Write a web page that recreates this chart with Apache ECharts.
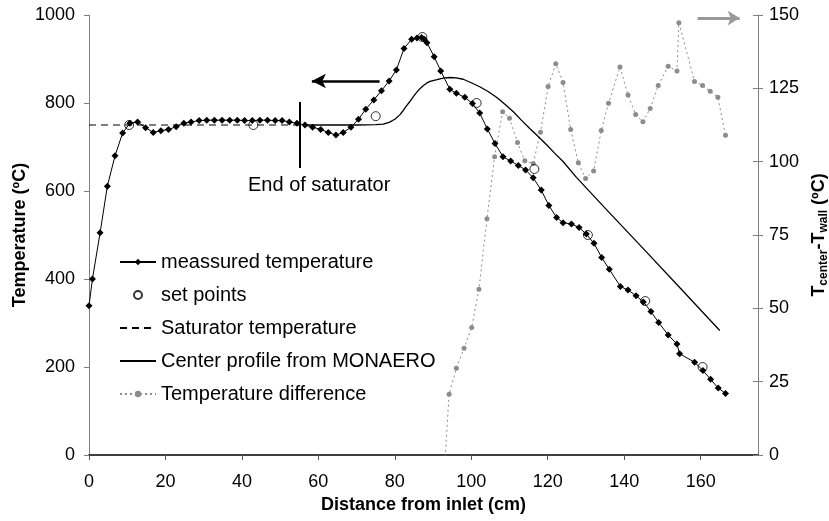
<!DOCTYPE html>
<html>
<head>
<meta charset="utf-8">
<script src="https://cdn.jsdelivr.net/npm/echarts@6/dist/echarts.min.js"></script>
<style>html,body{margin:0;padding:0;background:#fff}#c{width:829px;height:521px}</style>
</head>
<body>
<div id="c"></div>
<script>
// measured temperature (cm, ºC)
var measuredX = [0,0.9,2.9,4.8,6.8,8.8,10.7,12.7,14.8,16.8,18.8,20.8,22.8,24.8,26.7,28.8,30.8,32.8,34.8,36.8,38.8,40.7,42.7,44.7,46.7,48.7,50.5,52.4,54.4,56.5,58.5,60.6,62.6,64.6,66.5,68.5,70.5,72.4,74.5,76.5,78.5,80.4,82.4,84.4,85.8,87,87.7,88.4,90.3,92,94.4,96.1,98.3,100.3,102.2,104.2,106.2,108.3,110.3,112.3,114.2,116.2,118.3,120.3,122.3,124,126.2,128.2,130.1,132.1,134.1,136.1,139,141,143.1,145,147,149,151.5,153.8,154.5,158.4,160.6,162.6,164.6,166.5];
var measuredT = [339,400,505,611,680,732,754,757,744,733,737,740,746,754,757,760,761,761,761,761,761,760,760,761,761,760,760,757,754,750,745,740,733,727,733,745,763,786,807,828,850,875,924,945,948,949,945,937,905,873,831,822,813,799,777,741,708,678,668,658,648,630,602,567,540,528,525,517,502,481,449,422,383,375,362,348,326,301,273,252,230,211,192,172,152,140];
// set points
var setX = [10.5,43,75,87.2,101.4,116.5,130.5,145.5,160.5];
var setT = [750,750,770,950,800,650,500,350,200];
// saturator temperature
var satX = [0,56];
var satT = [750,750];
// center profile from MONAERO
var monX = [56,60,65,70,75,77,78.5,80,81.3,82.2,83,84,84.8,85.7,86.5,87.4,88.3,89.2,90,91,91.8,93,94.4,96,97.9,100,102.2,104.4,106.6,108.8,111,113.1,115.3,117.5,119.7,121.8,124,127.5,135,145,155,165];
var monT = [750,750,750,750,751,752,756,763,773,783,793,804,814,824,832,839,845,849,851,853,855,857,858,857,854,846,837,826,813,797,780,761,742,724,705,686,667,631,561,469,376,283];
// temperature difference (right axis)
var diffX = [92.2,94.2,96.1,98.1,100.1,102,104.1,106.1,108.2,110,112.1,114,116.2,118.1,120.1,122.1,124,126,128,129.9,132,134,135.9,138.9,141,143,144.9,146.8,148.9,151.5,153.8,154.3,158.4,160.5,162.5,164.5,166.5];
var diffT = [-21,20.7,29.6,36.4,43.5,56.5,80.5,101.7,117,114.8,106.5,100.3,99.4,110,125.6,133.4,127,111,99.6,94.3,96.8,110.6,119.9,132.3,122.7,116.1,113.6,118.1,126,132.5,130.9,147.4,127.3,126,124,122,109];
// tick settings
var xTicks = {min: 0, max: 175, interval: 20};
var yLeftTicks = {min: 0, max: 1000, interval: 200};
var yRightTicks = {min: 0, max: 150, interval: 25};

function zip(a, b) { return a.map(function (v, i) { return [v, b[i]]; }); }
function plain(v) { return String(v); }

var FONT = 'Liberation Sans, Arial, sans-serif';
var chart = echarts.init(document.getElementById('c'), null, {renderer: 'canvas'});
chart.setOption({
  animation: false,
  backgroundColor: '#fff',
  textStyle: {fontFamily: FONT},
  grid: {left: 89, right: 71, top: 15, bottom: 66, containLabel: false, outerBoundsMode: 'none'},
  legend: {
    orient: 'vertical', left: 119, top: 252, padding: 0,
    itemWidth: 36, itemHeight: 8, itemGap: 13,
    textStyle: {fontSize: 20, color: '#000', fontFamily: FONT, lineHeight: 20},
    data: [
      'meassured temperature',
      'set points',
      {name: 'Saturator temperature', itemStyle: {color: 'rgba(0,0,0,0)', borderWidth: 0}},
      {name: 'Center profile from MONAERO', itemStyle: {color: 'rgba(0,0,0,0)', borderWidth: 0}},
      'Temperature difference'
    ]
  },
  xAxis: {
    type: 'value', min: xTicks.min, max: xTicks.max, interval: xTicks.interval,
    splitLine: {show: false},
    axisLine: {lineStyle: {color: '#000', width: 1.5}},
    axisTick: {length: 5, lineStyle: {color: '#555'}},
    axisLabel: {fontSize: 18, color: '#000', margin: 18, showMaxLabel: false, fontFamily: FONT, formatter: plain},
    name: 'Distance from inlet (cm)', nameLocation: 'middle', nameGap: 40,
    nameTextStyle: {fontSize: 18, fontWeight: 'bold', color: '#000', fontFamily: FONT}
  },
  yAxis: [{
    type: 'value', position: 'left', min: yLeftTicks.min, max: yLeftTicks.max, interval: yLeftTicks.interval,
    splitLine: {show: false},
    axisLine: {show: true, lineStyle: {color: '#808080', width: 1}},
    axisTick: {show: true, length: 5, lineStyle: {color: '#808080'}},
    axisLabel: {fontSize: 18, color: '#000', margin: 14, fontFamily: FONT, formatter: plain},
    name: 'Temperature (ºC)', nameLocation: 'middle', nameGap: 60, nameMoveOverlap: false,
    nameTextStyle: {fontSize: 18, fontWeight: 'bold', color: '#000', fontFamily: FONT}
  }, {
    type: 'value', position: 'right', min: yRightTicks.min, max: yRightTicks.max, interval: yRightTicks.interval,
    splitLine: {show: false},
    axisLine: {show: true, lineStyle: {color: '#808080', width: 1}},
    axisTick: {show: true, length: 5, lineStyle: {color: '#808080'}},
    axisLabel: {fontSize: 18, color: '#000', margin: 11, fontFamily: FONT, formatter: plain},
    name: '{b|T}{s|center}{b|-T}{s|wall}{b| (ºC)}', nameLocation: 'middle', nameGap: 44,
    nameTextStyle: {
      fontSize: 18, fontWeight: 'bold', color: '#000', fontFamily: FONT,
      rich: {
        b: {fontSize: 18, fontWeight: 'bold', color: '#000', fontFamily: FONT},
        s: {fontSize: 12, fontWeight: 'bold', color: '#000', fontFamily: FONT, verticalAlign: 'bottom', padding: [10, 0, 0, 0]}
      }
    }
  }, {
    type: 'value', position: 'right', min: yRightTicks.min, max: yRightTicks.max, interval: yRightTicks.interval,
    splitLine: {show: false},
    axisLine: {show: false},
    axisTick: {show: true, inside: true, length: 5, lineStyle: {color: '#808080'}},
    axisLabel: {show: false}
  }],
  series: [{
    name: 'Saturator temperature', type: 'line', yAxisIndex: 0, symbol: 'none',
    data: zip(satX, satT),
    lineStyle: {color: '#000', width: 1, type: [7, 5]},
    itemStyle: {color: '#000'},
    z: 2,
    markLine: {
      silent: true, animation: false,
      label: {show: false},
      data: [
        [{coord: [58.3, 850], symbol: 'arrow', symbolSize: [11, 14], lineStyle: {color: '#000', width: 2.5, type: 'solid'}},
         {coord: [76, 850], symbol: 'none'}],
        [{coord: [159.2, 993], symbol: 'none', lineStyle: {color: '#999', width: 3, type: 'solid'}},
         {coord: [170.2, 993], symbol: 'arrow', symbolSize: [11, 12]}],
        [{coord: [55.2, 802], symbol: 'none', lineStyle: {color: '#000', width: 2, type: 'solid'}},
         {coord: [55.2, 652], symbol: 'none'}]
      ]
    },
    markPoint: {
      silent: true, animation: false,
      symbol: 'circle', symbolSize: 1,
      itemStyle: {color: 'rgba(0,0,0,0)'},
      data: [{coord: [60.2, 612], label: {show: true, position: 'inside', formatter: 'End of saturator', fontSize: 20, color: '#000', fontFamily: FONT}}]
    }
  }, {
    name: 'Center profile from MONAERO', type: 'line', yAxisIndex: 0, symbol: 'none',
    smooth: false,
    data: zip(monX, monT),
    lineStyle: {color: '#000', width: 1.3},
    itemStyle: {color: '#000'},
    z: 3
  }, {
    name: 'Temperature difference', type: 'line', yAxisIndex: 1,
    symbol: 'circle', symbolSize: 5,
    data: zip(diffX, diffT),
    lineStyle: {color: '#8c8c8c', width: 1, type: [2, 3]},
    itemStyle: {color: '#8c8c8c'},
    z: 2
  }, {
    name: 'meassured temperature', type: 'line', yAxisIndex: 0,
    symbol: 'diamond', symbolSize: 7,
    data: zip(measuredX, measuredT),
    lineStyle: {color: '#000', width: 1},
    itemStyle: {color: '#000'},
    z: 4
  }, {
    name: 'set points', type: 'scatter', yAxisIndex: 0,
    symbol: 'circle', symbolSize: 9,
    data: zip(setX, setT),
    itemStyle: {color: 'rgba(255,255,255,0)', borderColor: '#000', borderWidth: 1},
    z: 5
  }]
});
</script>
</body>
</html>
